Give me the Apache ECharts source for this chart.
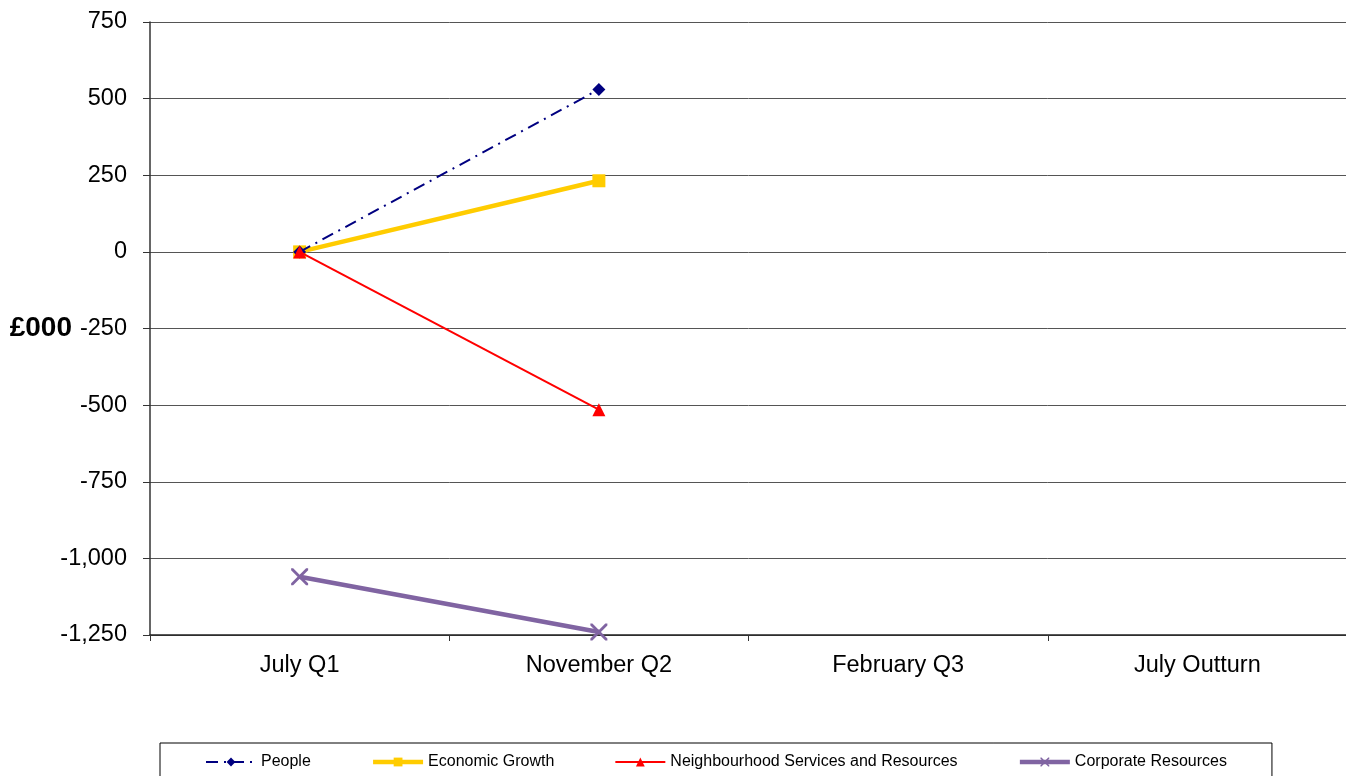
<!DOCTYPE html>
<html>
<head>
<meta charset="utf-8">
<script src="https://cdn.jsdelivr.net/npm/echarts@6/dist/echarts.min.js"></script>
<style>
  html, body { margin: 0; padding: 0; background: #fff; }
  #chart { width: 1346px; height: 776px; }
</style>
</head>
<body>
<div id="chart"></div>
<script>
// Forecast variance by directorate, £000
const categories = ['July Q1', 'November Q2', 'February Q3', 'July Outturn'];
const yTicks = [-1250, -1000, -750, -500, -250, 0, 250, 500, 750];

const people = [0, 530, null, null];
const economicGrowth = [0, 232, null, null];
const neighbourhood = [0, -515, null, null];
const corporate = [-1060, -1240, null, null];

const crossPath = 'path://M0,0L1.2,0L5,3.8L8.8,0L10,0L10,1.2L6.2,5L10,8.8L10,10L8.8,10L5,6.2L1.2,10L0,10L0,8.8L3.8,5L0,1.2Z';

const font = 'Liberation Sans, Arial, sans-serif';

const peopleLine = { color: '#000080', width: 2, type: [12, 6, 2, 6] };
const growthLine = { color: '#FFCC00', width: 4.5 };
const neighbourhoodLine = { color: '#FF0000', width: 2 };
const corporateLine = { color: '#8064A2', width: 4.5 };

const chart = echarts.init(document.getElementById('chart'), null, { renderer: 'canvas' });

chart.setOption({
  animation: false,
  backgroundColor: '#fff',
  grid: { left: 150, top: 22, right: -1, bottom: 141, containLabel: false, outerBoundsMode: 'none' },
  xAxis: {
    type: 'category',
    data: categories,
    boundaryGap: true,
    axisLine: { onZero: false, lineStyle: { color: '#222', width: 1.5 } },
    axisTick: { show: true, length: 6, lineStyle: { color: '#333' } },
    axisLabel: { fontFamily: font, fontSize: 23.5, color: '#000', margin: 19 },
    splitLine: { show: false }
  },
  yAxis: {
    type: 'value',
    min: yTicks[0],
    max: yTicks[yTicks.length - 1],
    interval: 250,
    name: '£000',
    nameLocation: 'middle',
    nameRotate: 0,
    nameGap: 78,
    nameMoveOverlap: false,
    nameTextStyle: { fontFamily: font, fontSize: 28, fontWeight: 'bold', color: '#000', align: 'right' },
    axisLine: { show: true, lineStyle: { color: '#333', width: 1.5 } },
    axisTick: { show: true, length: 7, lineStyle: { color: '#333' } },
    axisLabel: {
      fontFamily: font, fontSize: 23.5, color: '#000', margin: 23,
      formatter: v => v.toLocaleString('en-GB')
    },
    splitLine: { show: true, lineStyle: { color: '#555', width: 1 } }
  },
  legend: {
    bottom: -4,
    left: 160,
    padding: [11, 45, 10, 45],
    itemGap: 60,
    itemWidth: 50,
    itemHeight: 11,
    borderColor: '#000',
    borderWidth: 1,
    textStyle: { fontFamily: font, fontSize: 16, color: '#000' },
    data: [
      { name: 'People', lineStyle: peopleLine },
      { name: 'Economic Growth', lineStyle: growthLine },
      { name: 'Neighbourhood Services and Resources', lineStyle: neighbourhoodLine },
      { name: 'Corporate Resources', lineStyle: corporateLine }
    ]
  },
  series: [
    {
      name: 'People',
      type: 'line',
      data: people,
      connectNulls: false,
      symbol: 'diamond',
      symbolSize: 13,
      itemStyle: { color: '#000080' },
      lineStyle: peopleLine,
      z: 4
    },
    {
      name: 'Economic Growth',
      type: 'line',
      data: economicGrowth,
      symbol: 'rect',
      symbolSize: 13,
      itemStyle: { color: '#FFCC00' },
      lineStyle: growthLine,
      z: 3
    },
    {
      name: 'Neighbourhood Services and Resources',
      type: 'line',
      data: neighbourhood,
      symbol: 'triangle',
      symbolSize: 13,
      itemStyle: { color: '#FF0000' },
      lineStyle: neighbourhoodLine,
      z: 5
    },
    {
      name: 'Corporate Resources',
      type: 'line',
      data: corporate,
      symbol: crossPath,
      symbolSize: 17,
      itemStyle: { color: '#8064A2' },
      lineStyle: corporateLine,
      z: 2
    }
  ]
});
</script>
</body>
</html>
